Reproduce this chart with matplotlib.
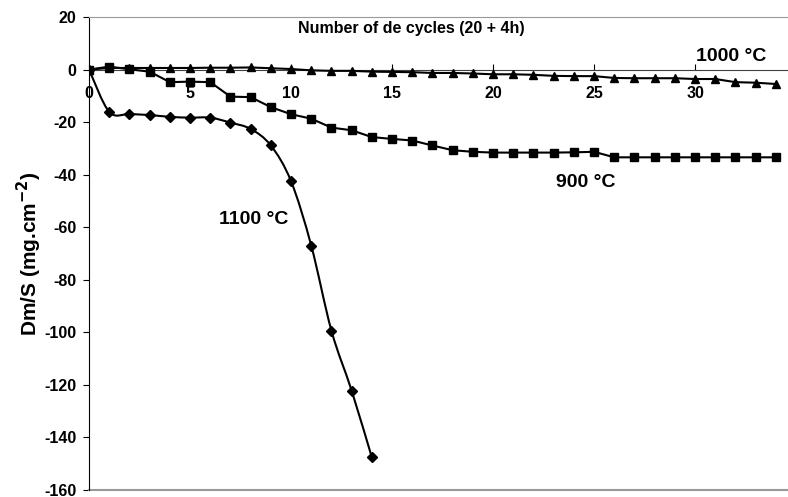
import matplotlib
matplotlib.use('Agg')
import matplotlib.pyplot as plt
from matplotlib.path import Path
from matplotlib.patches import PathPatch

plt.rcParams['font.family'] = ['Liberation Sans', 'DejaVu Sans']
plt.rcParams['font.weight'] = 'bold'
plt.rcParams['axes.unicode_minus'] = False

# cycles
cyc_1100 = list(range(0, 15))
cyc_900 = list(range(0, 35))
cyc_1000 = list(range(0, 35))

# mass change (mg.cm-2)
dm_1100 = [0, -16.1, -16.9, -17.3, -18.0, -18.3, -18.3, -20.2, -22.6, -28.9,
           -42.5, -67.0, -99.4, -122.2, -147.6]
dm_900 = [0, 1.1, 0.1, -0.8, -4.8, -4.6, -4.8, -10.3, -10.5, -14.3,
          -17.0, -18.7, -22.1, -23.1, -25.7, -26.4, -27.0, -28.9, -30.7, -31.3,
          -31.6, -31.6, -31.6, -31.6, -31.5, -31.3, -33.4, -33.4, -33.4, -33.4,
          -33.4, -33.4, -33.4, -33.4, -33.4]
dm_1000 = [0, 0.6, 0.6, 0.6, 0.6, 0.6, 0.7, 0.7, 0.8, 0.5,
           0.2, -0.3, -0.5, -0.5, -0.8, -0.9, -1.0, -1.3, -1.3, -1.5,
           -1.8, -1.8, -2.0, -2.4, -2.5, -2.5, -3.2, -3.3, -3.3, -3.3,
           -3.6, -3.6, -4.8, -5.0, -5.5]

fig = plt.figure(figsize=(7.88, 4.97), dpi=100)
ax = fig.add_axes([0.113, 0.0141, 0.8857, 0.9517])

# smoothed curve (Excel style) for 1100 °C
def smooth_path(xs, ys):
    pts = list(zip(xs, ys))
    verts = [pts[0]]
    codes = [Path.MOVETO]
    n = len(pts)
    for i in range(n - 1):
        p0 = pts[i - 1] if i > 0 else pts[i]
        p1 = pts[i]
        p2 = pts[i + 1]
        p3 = pts[i + 2] if i + 2 < n else pts[i + 1]
        c1 = (p1[0] + (p2[0] - p0[0]) / 6, p1[1] + (p2[1] - p0[1]) / 6)
        c2 = (p2[0] - (p3[0] - p1[0]) / 6, p2[1] - (p3[1] - p1[1]) / 6)
        verts += [c1, c2, p2]
        codes += [Path.CURVE4] * 3
    return Path(verts, codes)

ax.add_patch(PathPatch(smooth_path(cyc_1100, dm_1100), fill=False,
                       edgecolor='black', lw=1.5, zorder=3))
ax.plot(cyc_1100, dm_1100, ls='none', marker='D', ms=5, color='black', zorder=4)
ax.plot(cyc_900, dm_900, '-', marker='s', ms=5.8, lw=1.5, color='black', zorder=4)
ax.plot(cyc_1000, dm_1000, '-', marker='^', ms=5.5, lw=1.5, color='black', zorder=4)

ax.set_xlim(0, 34.55)
ax.set_ylim(-160, 20)
ax.set_yticks(range(-160, 21, 20))
ax.set_xticks(range(0, 31, 5))

ax.spines['bottom'].set_position(('data', 0))
ax.spines['bottom'].set_color('#404040')
ax.spines['right'].set_visible(False)
ax.spines['top'].set_color('#999999')
ax.spines['left'].set_color('black')
ax.axhline(-160, color='#999999', lw=1.5, clip_on=False)

ax.tick_params(axis='x', direction='in', length=4.3, pad=12, labelsize=11.5)
ax.tick_params(axis='y', direction='out', length=4.3, pad=5, labelsize=11.5)
for lab in ax.get_xticklabels() + ax.get_yticklabels():
    lab.set_fontweight('bold')

ax.set_ylabel('Dm/S (mg.cm$^{\\mathbf{-2}}$)', fontsize=15, fontweight='bold', labelpad=0)

ax.text(15.97, 15.5, 'Number of de cycles (20 + 4h)', ha='center', va='center',
        fontsize=11.5, fontweight='bold')
ax.text(31.8, 4.8, '1000 °C', ha='center', va='center', fontsize=14, fontweight='bold')
ax.text(24.6, -43.1, '900 °C', ha='center', va='center', fontsize=14, fontweight='bold')
ax.text(8.17, -57.2, '1100 °C', ha='center', va='center', fontsize=14, fontweight='bold')

fig.savefig('out.png', dpi=100)
